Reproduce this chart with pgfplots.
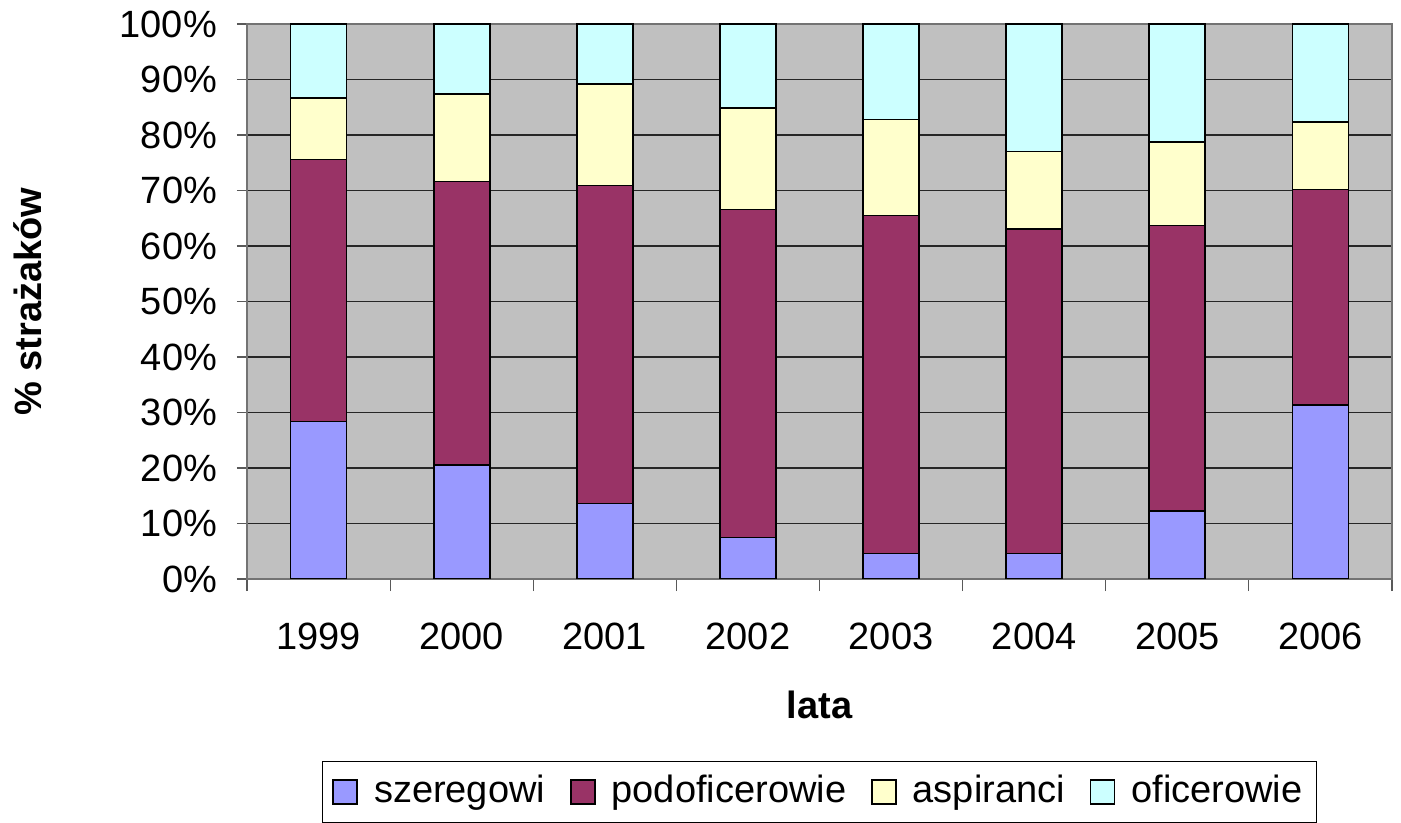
\documentclass[border=0pt]{standalone}
\usepackage{fontspec}
\setmainfont{Liberation Sans}
\usepackage{pgfplots}
\pgfplotsset{compat=1.18}
\definecolor{cSz}{HTML}{9999FF}
\definecolor{cPo}{HTML}{993366}
\definecolor{cAs}{HTML}{FFFFCC}
\definecolor{cOf}{HTML}{CCFFFF}
\definecolor{bgGray}{HTML}{C0C0C0}
\pgfplotsset{sq/.style={legend image code/.code={\draw[##1,draw=black,line width=0.8pt] (0pt,-6pt) rectangle (12pt,6pt);}}}
\begin{document}
\fontsize{19}{23}\selectfont
\begin{tikzpicture}
\useasboundingbox (-123.5pt,-122pt) rectangle (577pt,289.5pt);
\begin{axis}[
  at={(0,0)}, anchor=south west,
  scale only axis, width=572.5pt, height=277.5pt,
  ybar stacked, bar width=28pt,
  xmin=-0.5, xmax=7.5, ymin=0, ymax=100,
  axis background/.style={fill=bgGray},
  axis line style={draw=black!55, line width=0.6pt},
  tick align=outside,
  xtick pos=left, ytick pos=left,
  xtick={0,...,7},
  xticklabels={1999,2000,2001,2002,2003,2004,2005,2006},
  major x tick style={draw=none},
  minor xtick={-0.5,0.5,...,7.5},
  minor x tick style={draw=black!65, line width=0.6pt},
  minor tick length=6pt,
  major tick length=5pt,
  ytick={0,10,...,100},
  yticklabels={0\%,10\%,20\%,30\%,40\%,50\%,60\%,70\%,80\%,90\%,100\%},
  y tick style={draw=black!65, line width=0.6pt},
  ymajorgrids, major grid style={draw=black!85, line width=0.6pt},
  xticklabel style={anchor=center, yshift=-23.5pt},
  yticklabel style={anchor=east, xshift=-3.5pt},
  xlabel={\bfseries lata},
  ylabel={\bfseries \% strażaków},
  xlabel style={at={(axis description cs:0.5,0)}, anchor=center, yshift=-63pt},
  ylabel style={at={(axis description cs:0,0.5)}, anchor=center, yshift=109.5pt},
  legend style={at={(axis description cs:0.5,0)}, anchor=center, yshift=-106.5pt,
    legend columns=4, draw=black, fill=white, line width=0.6pt, inner xsep=5pt, inner ysep=5pt,
    /tikz/every odd column/.append style={column sep=6pt},
    /tikz/every even column/.append style={column sep=10.5pt},
    font=\fontsize{19}{23}\selectfont},
  legend cell align=left,
]
\addplot[fill=cSz, draw=black, line width=0.85pt, sq] coordinates {(0,28.4) (1,20.5) (2,13.6) (3,7.5) (4,4.6) (5,4.6) (6,12.2) (7,31.3)};
\addplot[fill=cPo, draw=black, line width=0.85pt, sq] coordinates {(0,47.2) (1,51.1) (2,57.3) (3,59.1) (4,60.9) (5,58.4) (6,51.5) (7,38.9)};
\addplot[fill=cAs, draw=black, line width=0.85pt, sq] coordinates {(0,11.1) (1,15.8) (2,18.3) (3,18.3) (4,17.3) (5,14.0) (6,15.1) (7,12.2)};
\addplot[fill=cOf, draw=black, line width=0.85pt, sq] coordinates {(0,13.3) (1,12.6) (2,10.8) (3,15.1) (4,17.2) (5,23.0) (6,21.2) (7,17.6)};
\legend{szeregowi,podoficerowie,aspiranci,oficerowie}
\end{axis}
\end{tikzpicture}
\end{document}
